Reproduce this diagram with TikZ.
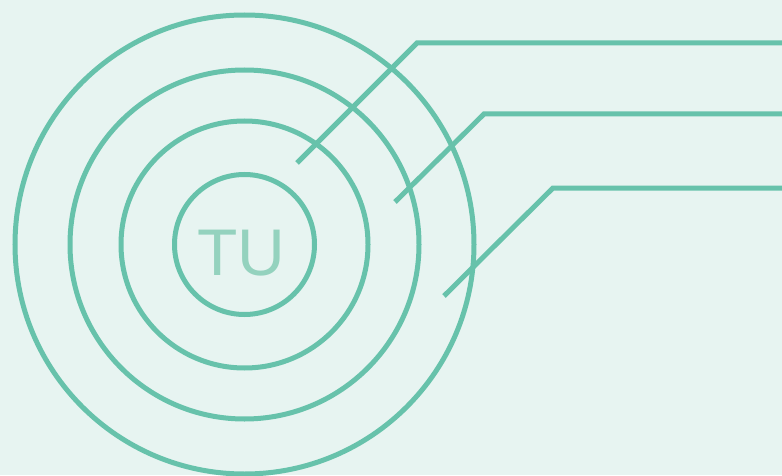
\documentclass[tikz,border=0pt]{standalone}
\usepackage{fontspec}
\setmainfont{Liberation Sans}
\definecolor{bgc}{HTML}{E7F4F1}
\definecolor{ringc}{HTML}{67C2AB}
\definecolor{textc}{HTML}{94D2BE}
\begin{document}
\begin{tikzpicture}[x=1pt,y=1pt,
  ring/.style={circle,draw=ringc,line width=5pt,inner sep=0pt,outer sep=0pt},
  leader/.style={draw=ringc,line width=5pt,line join=miter}]
\fill[bgc] (0,0) rectangle (782,475);
\useasboundingbox (0,0) rectangle (782,475);
\node[ring,minimum size=459pt] (r4) at (244.5,230.5) {};
\node[ring,minimum size=349pt] (r3) at (244.5,230.5) {};
\node[ring,minimum size=247pt] (r2) at (244.5,230.5) {};
\node[ring,minimum size=140pt] (r1) at (244.5,230.5) {};
\node[anchor=base,inner sep=0pt,text=textc,font=\fontsize{66}{66}\selectfont] (tu) at (241,200) {TU};
\coordinate (a1) at (297,312);
\coordinate (b1) at (417,432);
\coordinate (c1) at (782,432);
\coordinate (a2) at (395,273);
\coordinate (b2) at (484,361);
\coordinate (c2) at (782,361);
\coordinate (a3) at (444,179);
\coordinate (b3) at (553,287);
\coordinate (c3) at (782,287);
\draw[leader] (a1) -- (b1) -- (c1);
\draw[leader] (a2) -- (b2) -- (c2);
\draw[leader] (a3) -- (b3) -- (c3);
\end{tikzpicture}
\end{document}
